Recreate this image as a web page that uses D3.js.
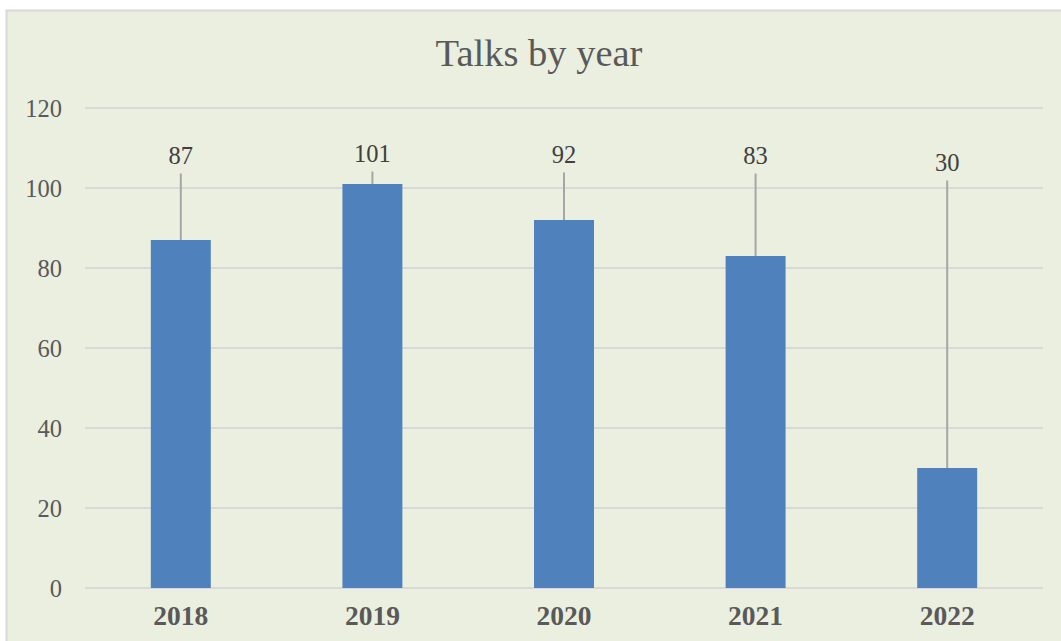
<!DOCTYPE html>
<html>
<head>
<meta charset="utf-8">
<script src="https://cdn.jsdelivr.net/npm/d3@7"></script>
<style>
  html, body { margin: 0; padding: 0; background: #fff; }
  svg { display: block; }
  text { font-family: "Liberation Serif", "DejaVu Serif", serif; fill: #595959; }
</style>
</head>
<body>
<div id="chart"></div>
<script>
const years = ['2018', '2019', '2020', '2021', '2022']
const talks = [87, 101, 92, 83, 30]
const yTicks = [0, 20, 40, 60, 80, 100, 120]
// where Excel put each data label (in value units, text baseline)
const labelAt = [106, 106.5, 106.25, 106, 104.25]

const WIDTH = 1061
const HEIGHT = 641
const MARGIN = {top: 108, right: 18, bottom: 53, left: 85}

let svg = d3.select('#chart')
    .append('svg')
    .attr('width', WIDTH)
    .attr('height', HEIGHT)

// chart area with border (right/bottom run off the page)
svg.append('rect')
    .attr('x', 6.5)
    .attr('y', 10.5)
    .attr('width', WIDTH + 10)
    .attr('height', HEIGHT + 10)
    .attr('fill', '#ebefdf')
    .attr('stroke', '#d9d9d9')
    .attr('stroke-width', 2)

svg.append('text')
    .text('Talks by year')
    .attr('x', 539)
    .attr('y', 66)
    .attr('text-anchor', 'middle')
    .style('font-size', '38.5px')

let x = d3.scaleBand()
    .domain(years)
    .range([MARGIN.left, WIDTH - MARGIN.right])
    .paddingInner(0.687)
    .paddingOuter(0.3435)

let y = d3.scaleLinear()
    .domain([0, 120])
    .range([HEIGHT - MARGIN.bottom, MARGIN.top])

// gridlines
svg.append('g')
    .selectAll('line')
    .data(yTicks)
    .join('line')
    .attr('x1', MARGIN.left)
    .attr('x2', WIDTH - MARGIN.right)
    .attr('y1', d => y(d))
    .attr('y2', d => y(d))
    .attr('stroke', '#d9d9d9')
    .attr('stroke-width', 2)

// y axis labels
let yAxis = svg.append('g')
    .attr('transform', 'translate(' + (MARGIN.left - 23) + ',0)')
    .call(d3.axisLeft(y).tickValues(yTicks).tickSize(0).tickPadding(0))
yAxis.select('.domain').remove()
yAxis.selectAll('text')
    .attr('dy', '0.35em')
    .style('font-size', '24.5px')
    .style('font-family', '"Liberation Serif", serif')
    .attr('fill', '#595959')

// bars
svg.append('g')
    .selectAll('rect')
    .data(talks)
    .join('rect')
    .attr('x', (d, i) => x(years[i]))
    .attr('width', x.bandwidth())
    .attr('y', d => y(d))
    .attr('height', d => y(0) - y(d))
    .attr('fill', '#4f81bd')

// leader lines from label to bar top
svg.append('g')
    .selectAll('line')
    .data(talks)
    .join('line')
    .attr('x1', (d, i) => x(years[i]) + x.bandwidth() / 2)
    .attr('x2', (d, i) => x(years[i]) + x.bandwidth() / 2)
    .attr('y1', (d, i) => y(labelAt[i]) + 9.5)
    .attr('y2', d => y(d))
    .attr('stroke', '#a6a6a6')
    .attr('stroke-width', 2)

// data labels
svg.append('g')
    .selectAll('text')
    .data(talks)
    .join('text')
    .text(d => d)
    .attr('x', (d, i) => x(years[i]) + x.bandwidth() / 2)
    .attr('y', (d, i) => y(labelAt[i]))
    .attr('text-anchor', 'middle')
    .style('font-size', '24.5px')
    .style('fill', '#404040')

// x axis labels
let xAxis = svg.append('g')
    .attr('transform', 'translate(0,' + y(0) + ')')
    .call(d3.axisBottom(x).tickSize(0).tickPadding(0))
xAxis.select('.domain').remove()
xAxis.selectAll('text')
    .attr('dy', null)
    .attr('y', 37)
    .style('font-size', '27.5px')
    .style('font-weight', 'bold')
    .style('font-family', '"Liberation Serif", serif')
    .attr('fill', '#595959')
</script>
</body>
</html>
